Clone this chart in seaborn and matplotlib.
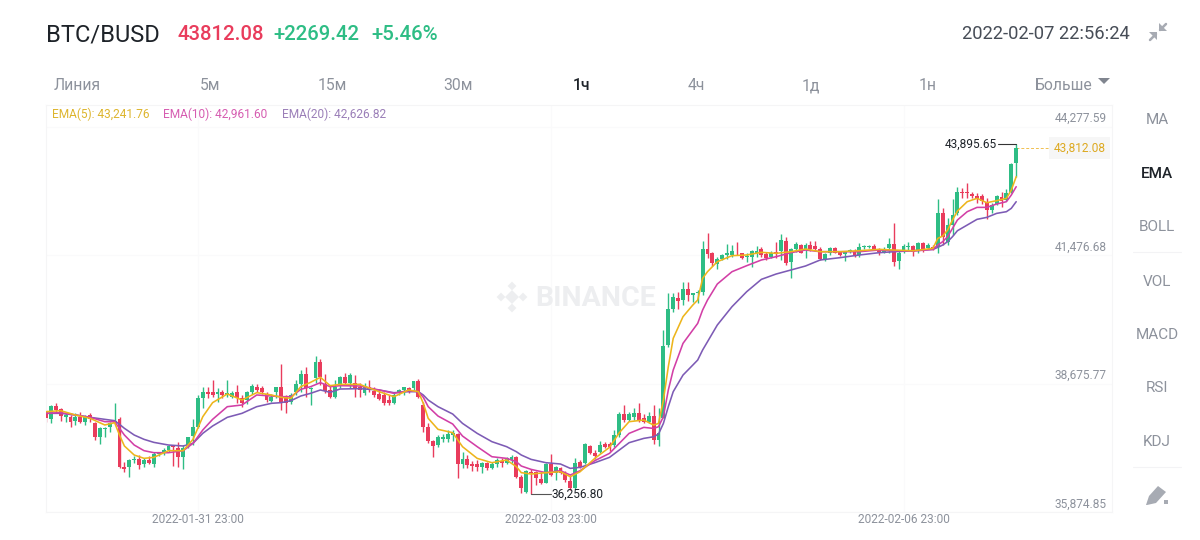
import matplotlib
matplotlib.use("Agg")
import matplotlib.pyplot as plt
from matplotlib.patches import Polygon, Rectangle
from matplotlib.transforms import ScaledTranslation
import numpy as np
import pandas as pd
import seaborn as sns

# hourly candles (BTC/BUSD)
opens = [
    38062, 37895, 38186, 38113, 37939, 37953, 37866, 37953, 37844, 37990,
    37808, 37517, 37692, 37735, 37822, 37895, 36848, 36848, 37008, 37037,
    36921, 37008, 36921, 37139, 37154, 37226, 37321, 37263, 37081, 37335,
    37532, 37735, 38353, 38484, 38484, 38455, 38484, 38425, 38389, 38484,
    38353, 38316, 38484, 38607, 38585, 38440, 38295, 38484, 38607, 38404,
    38280, 38484, 38658, 38876, 38556, 38804, 39138, 38658, 38535, 38389,
    38644, 38811, 38680, 38680, 38593, 38462, 38607, 38520, 38447, 38425,
    38316, 38244, 38462, 38535, 38571, 38571, 38738, 38207, 37720, 37429,
    37335, 37459, 37459, 37553, 37575, 36921, 37022, 36921, 36921, 36848,
    36935, 36826, 36921, 36993, 36950, 37008, 37066, 36630, 36317, 36753,
    36753, 36586, 36513, 36921, 36732, 36826, 36732, 36557, 36390, 36971,
    36950, 37313, 37168, 37190, 37357, 37357, 37335, 37553, 38011, 37880,
    37938, 38026, 37917, 37844, 37967, 37443, 37930, 39515, 40293, 40532,
    40496, 40736, 40605, 40642, 40678, 41601, 41514, 41281, 41383, 41478,
    41478, 41528, 41514, 41427, 41427, 41528, 41601, 41499, 41441, 41550,
    41572, 41790, 41332, 41601, 41696, 41601, 41696, 41674, 41601, 41383,
    41514, 41623, 41550, 41499, 41550, 41572, 41478, 41645, 41645, 41674,
    41601, 41549, 41622, 41717, 41353, 41549, 41644, 41673, 41586, 41746,
    41622, 41659, 41659, 42400, 41768, 42131, 42385, 42858, 42858, 42807,
    42764, 42764, 42640, 42458, 42589, 42749, 42676, 42858, 43476,
]
closes = [
    37917, 38186, 38099, 37968, 37990, 37844, 37953, 37844, 37953, 37895,
    37503, 37699, 37713, 37808, 37866, 36848, 36805, 37008, 37037, 36899,
    37008, 36936, 37139, 37168, 37226, 37314, 37299, 37081, 37263, 37517,
    37735, 38353, 38484, 38440, 38425, 38484, 38425, 38462, 38462, 38353,
    38244, 38484, 38629, 38535, 38498, 38316, 38389, 38607, 38266, 38259,
    38425, 38658, 38876, 38571, 38585, 39153, 38825, 38513, 38389, 38607,
    38811, 38694, 38862, 38571, 38535, 38593, 38549, 38425, 38331, 38244,
    38244, 38425, 38535, 38593, 38498, 38738, 38375, 37720, 37429, 37313,
    37517, 37502, 37575, 37604, 36921, 37022, 36899, 36877, 36848, 36950,
    36826, 36921, 37008, 36950, 37044, 37066, 36630, 36390, 36775, 36717,
    36608, 36499, 36921, 36681, 36848, 36732, 36572, 36390, 36950, 36862,
    37357, 37168, 37095, 37335, 37284, 37299, 37553, 38011, 37880, 38011,
    38040, 37880, 37844, 37967, 37450, 37604, 39493, 40293, 40554, 40482,
    40736, 40605, 40642, 40671, 41601, 41499, 41310, 41383, 41478, 41514,
    41572, 41514, 41405, 41456, 41572, 41572, 41478, 41405, 41528, 41499,
    41805, 41310, 41601, 41717, 41528, 41696, 41601, 41601, 41383, 41499,
    41623, 41528, 41478, 41550, 41587, 41478, 41645, 41674, 41674, 41601,
    41550, 41600, 41717, 41331, 41528, 41673, 41673, 41549, 41731, 41600,
    41695, 41600, 42400, 41862, 42131, 42349, 42858, 42822, 42822, 42764,
    42691, 42662, 42458, 42567, 42764, 42662, 42836, 43461, 43812.08,
]
highs = [
    38099, 38208, 38259, 38135, 38026, 37990, 38026, 38062, 37990, 38026,
    37844, 37735, 37735, 37844, 38244, 37953, 36972, 37023, 37095, 37117,
    37045, 37095, 37190, 37190, 37263, 37335, 37335, 37408, 37335, 37517,
    37895, 38426, 38607, 38607, 38753, 38571, 38535, 38753, 38513, 38644,
    38425, 38513, 38658, 38658, 38629, 38484, 38440, 38607, 39094, 38425,
    38476, 38753, 38971, 39043, 38607, 39283, 39211, 38876, 38644, 38753,
    38847, 38898, 38898, 38862, 38680, 38680, 38753, 38593, 38535, 38498,
    38425, 38462, 38549, 38607, 38593, 38738, 38767, 38280, 37822, 37444,
    37553, 37568, 37662, 37662, 37589, 37190, 37117, 36993, 37008, 36971,
    36971, 36971, 37044, 37044, 37080, 37117, 37095, 36681, 36790, 36804,
    36775, 36753, 36950, 37139, 36877, 36862, 36775, 36681, 37044, 37008,
    37371, 37335, 37226, 37429, 37408, 37408, 37662, 38062, 38207, 38062,
    38135, 38244, 38011, 38062, 38207, 38133, 39842, 40642, 40642, 40678,
    40896, 40896, 40642, 40714, 41790, 41950, 41550, 41441, 41499, 41717,
    41696, 41768, 41528, 41514, 41587, 41674, 41645, 41550, 41572, 41768,
    41936, 41863, 41623, 41768, 41717, 41732, 41790, 41790, 41645, 41528,
    41659, 41645, 41572, 41572, 41601, 41601, 41732, 41696, 41696, 41717,
    41623, 41659, 41840, 42182, 41571, 41717, 41768, 41695, 41768, 41768,
    41731, 41695, 42691, 42495, 42276, 42691, 42967, 42931, 43040, 42858,
    42822, 42807, 42713, 42618, 42785, 42858, 42909, 43476, 43895.65,
]
lows = [
    37844, 37808, 38026, 37866, 37844, 37735, 37771, 37808, 37771, 37844,
    37444, 37357, 37503, 37626, 37808, 36826, 36754, 36645, 36936, 36805,
    36848, 36921, 36863, 37095, 37117, 37190, 36877, 36848, 36805, 37263,
    37335, 37699, 38135, 38367, 38389, 38266, 38367, 38389, 38353, 38244,
    38171, 38222, 38440, 38498, 38440, 38266, 38280, 38353, 38098, 38026,
    38222, 38425, 38498, 38389, 38207, 38680, 38644, 38462, 38353, 38367,
    38571, 38644, 38571, 38389, 38389, 38425, 38498, 38389, 38316, 38207,
    38207, 38229, 38425, 38425, 38462, 38535, 38353, 37626, 37371, 37081,
    37284, 37408, 37408, 37429, 36608, 36826, 36826, 36775, 36775, 36732,
    36790, 36804, 36848, 36862, 36921, 36935, 36608, 36281, 36295, 36256.8,
    36463, 36484, 36499, 36659, 36572, 36702, 36535, 36353, 36368, 36826,
    36921, 37139, 37022, 37168, 37262, 37211, 37299, 37517, 37844, 37866,
    37880, 37844, 37807, 37807, 37360, 37312, 37915, 39478, 40242, 40293,
    40387, 40482, 40460, 40423, 40605, 41405, 41238, 41165, 41369, 41383,
    41441, 41478, 41383, 41332, 41223, 41441, 41441, 41369, 41405, 41405,
    41369, 41259, 40969, 41550, 41514, 41405, 41572, 41572, 41369, 41354,
    41478, 41514, 41456, 41354, 41514, 41441, 41441, 41601, 41623, 41587,
    41478, 41528, 41528, 41237, 41164, 41513, 41586, 41455, 41528, 41549,
    41600, 41586, 41513, 41695, 41695, 41913, 42349, 42713, 42713, 42713,
    42604, 42589, 42255, 42385, 42567, 42516, 42662, 42822, 43185,
]

# EMA curves read at these candle numbers
ema_hours = [
    0, 3, 6, 9, 12, 14, 15, 16, 18, 20, 22, 25, 28, 30, 32, 34, 37, 40, 43, 46,
    48, 50, 52, 54, 56, 58, 60, 64, 68, 71, 74, 76, 77, 78, 80, 83, 85, 88, 91,
    94, 96, 97, 99, 102, 105, 107, 109, 112, 115, 117, 119, 122, 124, 125, 126,
    127, 128, 130, 132, 133, 134, 135, 137, 140, 143, 146, 149, 152, 155, 158,
    162, 166, 170, 173, 177, 181, 182, 183, 184, 185, 186, 188, 190, 192, 194,
    196, 197, 198,
]
ema5 = [
    38062, 38084, 37990, 37917, 37772, 37822, 37553, 37314, 37117, 37045, 37066,
    37212, 37212, 37459, 37953, 38259, 38448, 38317, 38477, 38426, 38375, 38353,
    38608, 38702, 38811, 38629, 38658, 38658, 38498, 38389, 38535, 38498, 38244,
    37917, 37677, 37604, 37299, 37044, 36950, 37008, 36862, 36732, 36703, 36732,
    36753, 36644, 36753, 37044, 37284, 37604, 37844, 37880, 37770, 37806, 38315,
    39042, 39660, 40133, 40387, 40496, 40969, 41114, 41332, 41463, 41478, 41536,
    41514, 41550, 41608, 41550, 41550, 41572, 41601, 41586, 41571, 41622, 41840,
    41891, 42022, 42240, 42436, 42640, 42713, 42618, 42662, 42713, 42894, 43185,
]
ema10 = [
    38026, 38041, 37990, 37939, 37844, 37844, 37699, 37553, 37335, 37212, 37168,
    37168, 37212, 37372, 37663, 37895, 38171, 38208, 38426, 38404, 38389, 38389,
    38549, 38607, 38695, 38607, 38629, 38622, 38535, 38462, 38520, 38498, 38375,
    38171, 37967, 37793, 37531, 37299, 37080, 37044, 36971, 36877, 36804, 36732,
    36775, 36681, 36775, 36993, 37153, 37371, 37589, 37720, 37697, 37734, 37952,
    38533, 38969, 39551, 39842, 39987, 40278, 40496, 40845, 41114, 41245, 41369,
    41441, 41528, 41587, 41550, 41550, 41550, 41587, 41571, 41564, 41600, 41695,
    41768, 41877, 42058, 42240, 42422, 42516, 42516, 42589, 42640, 42785, 42967,
]
ema20 = [
    38026, 38026, 37990, 37939, 37895, 37866, 37786, 37699, 37553, 37459, 37393,
    37335, 37314, 37372, 37590, 37750, 37939, 38026, 38171, 38244, 38259, 38302,
    38404, 38462, 38535, 38484, 38556, 38564, 38535, 38476, 38498, 38498, 38425,
    38316, 38171, 38011, 37807, 37589, 37408, 37299, 37189, 37117, 37022, 36950,
    36921, 36826, 36848, 36950, 37066, 37226, 37386, 37480, 37515, 37574, 37806,
    38170, 38497, 38860, 39078, 39188, 39406, 39587, 39951, 40351, 40678, 40947,
    41063, 41150, 41238, 41369, 41419, 41478, 41528, 41549, 41571, 41600, 41644,
    41695, 41768, 41877, 42007, 42131, 42255, 42298, 42385, 42422, 42495, 42640,
]

price_ticks = [44277.59, 41476.68, 38675.77, 35874.85]
price_labels = ["44,277.59", "41,476.68", "38,675.77", "35,874.85"]
date_hours = [31, 103, 175]
date_labels = ["2022-01-31 23:00", "2022-02-03 23:00", "2022-02-06 23:00"]
tabs = ["Линия", "5м", "15м", "30м", "1ч", "4ч", "1д", "1н", "Больше"]
side_items = ["MA", "EMA", "BOLL", "VOL", "MACD", "RSI", "KDJ"]

GREEN = "#2EBD85"
RED = "#E93C5C"
GRAY = "#8D929C"
DARK = "#1E2329"

sns.set_theme(style="white")
plt.rcParams["font.family"] = ["Roboto", "DejaVu Sans"]

fig = plt.figure(figsize=(12, 5.4), dpi=100)
ax = fig.add_axes([46 / 1200, 1 - 512 / 540, (1112 - 46) / 1200, 407 / 540])

candles = pd.DataFrame({"open": opens, "close": closes, "high": highs, "low": lows})
candles["hour"] = range(len(candles))
candles["color"] = np.where(candles["close"] >= candles["open"], GREEN, RED)

ax.vlines(candles["hour"], candles["low"], candles["high"], colors=candles["color"], linewidth=1.0, zorder=2)
ax.bar(candles["hour"], (candles["close"] - candles["open"]).abs(),
       bottom=candles[["open", "close"]].min(axis=1), width=0.8, color=candles["color"], linewidth=0, zorder=3)

emas = pd.DataFrame({"hour": ema_hours, "EMA(5)": ema5, "EMA(10)": ema10, "EMA(20)": ema20})
emas = emas.melt(id_vars="hour", var_name="ema", value_name="price")
sns.lineplot(data=emas, x="hour", y="price", hue="ema", ax=ax, legend=False, linewidth=1.15, zorder=4,
             hue_order=["EMA(20)", "EMA(10)", "EMA(5)"],
             palette={"EMA(5)": "#EDB51C", "EMA(10)": "#D23FA6", "EMA(20)": "#7D5BB5"})

last = len(opens) - 1
low_hour = lows.index(min(lows))
high_hour = highs.index(max(highs))

# last price line, high and low pointers
ax.plot([last, 205], [closes[-1], closes[-1]], color="#F0C050", linewidth=0.7, linestyle=(0, (3, 2)), zorder=2)
ax.plot([high_hour, high_hour - 3.8], [max(highs), max(highs)], color="#333333", linewidth=0.8, zorder=5)
ax.plot([low_hour, low_hour + 4], [min(lows), min(lows)], color="#555555", linewidth=0.8, zorder=5)
ax.text(high_hour - 4, max(highs), "43,895.65", ha="right", va="center", fontsize=8.6, color=DARK)
ax.text(low_hour + 4.1, min(lows), "36,256.80", ha="left", va="center", fontsize=8.6, color=DARK)
ax.text(216.2, closes[-1], "43,812.08", ha="right", va="center", fontsize=8.6, color="#DDA920",
        bbox=dict(boxstyle="square,pad=0.4", facecolor="#F6F6F6", edgecolor="none"))

ax.set_xlim(0, (1112 - 46) / 4.9)
ax.set_ylim(35874.85, 44748)
ax.set_xlabel("")
ax.set_ylabel("")
ax.set_xticks(date_hours, date_labels)
ax.set_yticks(price_ticks, price_labels)
ax.yaxis.tick_right()
ax.tick_params(axis="y", length=0, pad=-4, labelsize=8.6, labelcolor=GRAY)
ax.tick_params(axis="x", length=0, pad=1, labelsize=8.6, labelcolor=GRAY)
raise_labels = ScaledTranslation(0, 1 / 72, fig.dpi_scale_trans)
for label in ax.get_yticklabels():
    label.set_ha("right")
    label.set_va("bottom")
    label.set_transform(label.get_transform() + raise_labels)
ax.grid(True, color="#FAFAFB", linewidth=0.8)
ax.set_axisbelow(True)
for spine in ax.spines.values():
    spine.set_color("#F5F5F6")
    spine.set_linewidth(0.8)

# page chrome sits on a pixel overlay
ui = fig.add_axes([0, 0, 1, 1], facecolor="none")
ui.set_xlim(0, 1200)
ui.set_ylim(540, 0)
ui.axis("off")

ui.text(46, 35, "BTC/BUSD", fontsize=17, color=DARK, va="center")
ui.text(177, 35, "43812.08", fontsize=14.7, color=RED, va="center", fontweight="medium")
ui.text(273, 35, "+2269.42", fontsize=14.7, color=GREEN, va="center", fontweight="medium")
ui.text(371, 35, "+5.46%", fontsize=14.7, color=GREEN, va="center", fontweight="medium")
ui.text(1130, 34, "2022-02-07 22:56:24", fontsize=13.2, color="#474D57", va="center", ha="right")

tab_x = [77, 210, 332, 458, 581, 696, 811, 928, 1064]
for x, name in zip(tab_x, tabs):
    active = name == "1ч"
    ui.text(x, 86, name, fontsize=11.3, ha="center", va="center", color=DARK if active else GRAY,
            fontweight="medium" if active else "normal")

ui.text(52, 114, "EMA(5): 43,241.76", fontsize=8.6, color="#DDB52E", va="center")
ui.text(163, 114, "EMA(10): 42,961.60", fontsize=8.6, color="#D65DB1", va="center")
ui.text(282, 114, "EMA(20): 42,626.82", fontsize=8.6, color="#9B7FB8", va="center")

side_y = [120, 174, 227, 282, 335, 388, 442]
for y, name in zip(side_y, side_items):
    ui.text(1157, y, name, fontsize=11, ha="center", va="center", color=DARK if name == "EMA" else GRAY,
            fontweight="medium" if name == "EMA" else "normal")
ui.plot([1133, 1181], [252, 252], color="#F3F3F5", linewidth=0.8)
ui.plot([1133, 1181], [467, 467], color="#F3F3F5", linewidth=0.8)

# watermark
ui.text(535, 298, "BINANCE", fontsize=20.5, color="#EDEEF0", va="center", fontweight="bold", zorder=1)
ui.scatter([512, 501, 523, 512, 512], [297, 297, 297, 286, 308], marker="D", s=[50, 20, 20, 20, 20],
           color="#EDEEF0", linewidths=0, zorder=1)

# icons
icon = "#A7ABB3"
ui.add_patch(Polygon([(1098, 78), (1110, 78), (1104, 84)], closed=True, color="#80858F", linewidth=0))
ui.add_patch(Polygon([(1149, 32), (1157, 32), (1157, 40)], closed=True, color=icon, linewidth=0))
ui.add_patch(Polygon([(1159, 31), (1167, 31), (1159, 23)], closed=True, color=icon, linewidth=0))
ui.plot([1150, 1156], [40, 34], color=icon, linewidth=1.8)
ui.plot([1160, 1166], [30, 24], color=icon, linewidth=1.8)
ui.add_patch(Polygon([(1146, 505), (1149, 496), (1158, 486), (1166, 492), (1156, 503), (1147, 505)], closed=True,
                     color=icon, linewidth=0))
ui.add_patch(Rectangle((1164, 500), 4, 4, color=icon, linewidth=0))

fig.savefig("out.png", dpi=100)
